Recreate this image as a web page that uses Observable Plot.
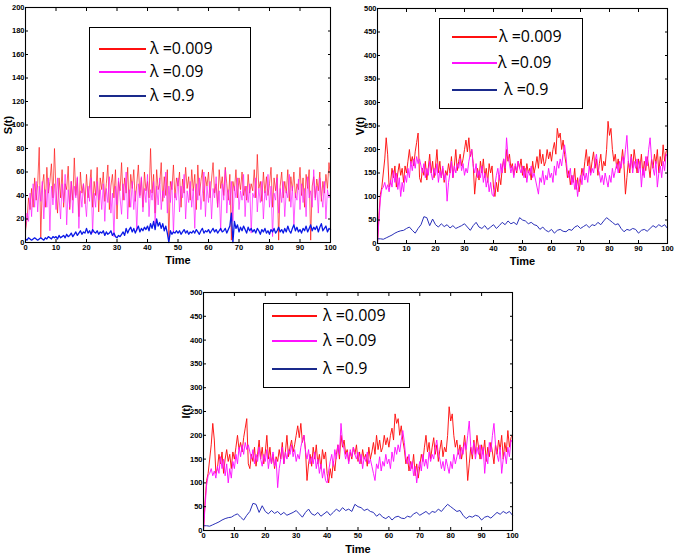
<!DOCTYPE html>
<html>
<head>
<meta charset="utf-8">
<script src="https://cdn.jsdelivr.net/npm/d3@7"></script>
<script src="https://cdn.jsdelivr.net/npm/@observablehq/plot@0.6"></script>
<style>
  body { margin: 0; background: #fff; }
  #wrap { position: relative; width: 678px; height: 558px; background: #fff; overflow: hidden; }
  .panel { position: absolute; }
  .legend { position: absolute; border: 1.5px solid #000; background: #fff; box-sizing: border-box; }
  .legend .sw { position: absolute; height: 2.2px; }
  .legend .lb { position: absolute; font-family: "Open Sans", "Noto Sans", sans-serif; font-size: 16px; line-height: 1; white-space: nowrap; color: #000; transform: translateY(-55%); }
</style>
</head>
<body>
<div id="wrap"></div>
<script>
// ---------- data ----------
const xTicks = [0, 10, 20, 30, 40, 50, 60, 70, 80, 90, 100];
const sTicks = [0, 20, 40, 60, 80, 100, 120, 140, 160, 180, 200];
const vTicks = [0, 50, 100, 150, 200, 250, 300, 350, 400, 450, 500];
const legendLabels = ["λ =0.009", "λ =0.09", "λ =0.9"];
const seriesColors = ["#ff1010", "#ff10ff", "#0a18e0"];

// S(t), sampled every 0.5 time units (t = 0 … 100)
const sRed = [
  10, 20, 38, 28, 46, 30, 55, 36, 50, 81,
  4, 48, 58, 30, 64, 42, 52, 67, 38, 80,
  44, 25, 55, 38, 62, 30, 50, 45, 65, 28,
  52, 36, 72, 40, 55, 22, 60, 42, 50, 33,
  58, 38, 48, 62, 30, 52, 40, 64, 26, 55,
  45, 60, 35, 50, 66, 28, 48, 58, 38, 62,
  20, 52, 44, 68, 36, 55, 42, 64, 30, 58,
  46, 62, 35, 50, 66, 40, 55, 30, 60, 44,
  52, 38, 80, 42, 58, 25, 62, 45, 50, 68,
  35, 56, 40, 62, 2, 52, 45, 66, 38, 55,
  48, 60, 30, 54, 42, 64, 46, 56, 36, 62,
  44, 58, 28, 66, 40, 52, 62, 35, 56, 48,
  60, 38, 54, 68, 42, 50, 30, 62, 46, 56,
  40, 64, 50, 36, 58, 2, 52, 44, 62, 38,
  55, 45, 60, 40, 48, 36, 58, 42, 50, 44,
  62, 38, 75, 46, 52, 35, 60, 42, 56, 40,
  50, 64, 30, 55, 44, 58, 2, 48, 60, 38,
  52, 42, 62, 35, 56, 44, 60, 38, 50, 45,
  64, 40, 55, 30, 58, 46, 62, 2, 48, 56,
  38, 54, 44, 60, 35, 52, 42, 58, 46, 68,
  55
];
const sMagenta = [
  12, 25, 18, 42, 22, 50, 30, 52, 26, 48,
  35, 52, 20, 45, 30, 55, 10, 48, 32, 50,
  28, 55, 38, 20, 50, 34, 58, 15, 45, 30,
  52, 25, 48, 38, 56, 12, 44, 30, 50, 36,
  22, 48, 35, 55, 8, 42, 30, 52, 36, 45,
  28, 50, 18, 46, 34, 56, 25, 42, 5, 48,
  32, 55, 38, 24, 50, 36, 60, 20, 45, 30,
  52, 28, 44, 10, 50, 38, 56, 26, 46, 34,
  58, 22, 45, 36, 52, 15, 48, 32, 55, 28,
  44, 38, 60, 25, 48, 34, 52, 8, 42, 36,
  55, 26, 48, 38, 58, 20, 44, 34, 52, 30,
  46, 12, 50, 36, 55, 28, 42, 60, 22, 48,
  34, 52, 20, 46, 38, 56, 30, 44, 10, 50,
  36, 62, 25, 45, 32, 52, 18, 48, 38, 55,
  28, 44, 36, 58, 22, 48, 34, 50, 8, 42,
  38, 55, 26, 46, 34, 52, 20, 44, 36, 58,
  30, 48, 5, 42, 36, 55, 25, 46, 34, 52,
  22, 44, 38, 58, 30, 48, 15, 42, 36, 54,
  28, 50, 34, 46, 22, 56, 38, 44, 30, 62,
  36, 48, 25, 55, 40, 30, 52, 20, 45, 38,
  42
];
const sBlue = [
  3, 2, 4, 3, 2, 3, 4, 3, 2, 3,
  4, 3, 2, 4, 3, 5, 4, 3, 5, 4,
  5, 3, 6, 4, 5, 6, 4, 7, 5, 6,
  8, 5, 7, 9, 6, 8, 10, 7, 9, 8,
  12, 8, 10, 7, 11, 9, 8, 10, 7, 9,
  8, 10, 6, 9, 7, 8, 10, 6, 8, 5,
  4, 6, 5, 7, 9, 6, 12, 8, 11, 13,
  9, 12, 8, 11, 14, 9, 12, 10, 13, 11,
  14, 10, 16, 12, 18, 11, 20, 14, 17, 12,
  16, 10, 14, 8, 0, 10, 7, 9, 8, 10,
  8, 10, 7, 9, 11, 8, 10, 7, 9, 8,
  10, 8, 11, 9, 7, 10, 12, 8, 10, 9,
  11, 8, 10, 12, 9, 11, 8, 10, 12, 9,
  10, 12, 8, 11, 14, 25, 0, 18, 12, 15,
  9, 13, 10, 14, 11, 8, 13, 10, 12, 9,
  11, 8, 12, 10, 7, 11, 9, 12, 8, 10,
  7, 11, 9, 12, 8, 10, 13, 9, 11, 8,
  12, 9, 14, 10, 8, 12, 15, 10, 13, 9,
  11, 8, 12, 10, 14, 9, 12, 15, 10, 13,
  11, 14, 9, 13, 16, 10, 12, 14, 9, 12,
  11
];

// V(t), red & magenta every 0.5 time units, blue every 1 time unit
const vRed = [
  0, 60, 105, 120, 150, 180, 225, 190, 120, 130,
  160, 140, 165, 120, 150, 170, 145, 160, 130, 165,
  150, 175, 200, 170, 185, 165, 195, 215, 235, 140,
  130, 160, 145, 175, 135, 160, 190, 150, 175, 140,
  165, 200, 150, 175, 140, 160, 130, 155, 145, 170,
  150, 185, 140, 165, 200, 155, 175, 190, 165, 180,
  200, 220, 195, 225, 185, 200, 170, 105, 140, 160,
  135, 175, 150, 180, 140, 160, 130, 170, 150, 165,
  120, 100, 130, 110, 145, 125, 160, 180, 150, 200,
  175, 190, 160, 170, 145, 165, 150, 175, 160, 180,
  145, 165, 140, 170, 150, 160, 135, 175, 150, 165,
  185, 160, 200, 170, 190, 165, 175, 200, 180, 195,
  175, 200, 215, 190, 245, 225, 235, 200, 220, 190,
  170, 140, 155, 125, 145, 130, 160, 115, 140, 110,
  135, 160, 145, 175, 200, 165, 185, 150, 175, 195,
  160, 180, 145, 170, 190, 155, 175, 165, 200, 260,
  230, 245, 200, 175, 190, 160, 180, 150, 170, 200,
  165, 105, 140, 175, 150, 190, 160, 200, 175, 150,
  180, 160, 190, 145, 175, 155, 185, 165, 140, 180,
  160, 190, 170, 200, 150, 185, 165, 210, 175, 195,
  200
];
const vMagenta = [
  0, 50, 95, 115, 120, 130, 115, 125, 110, 135,
  120, 155, 130, 150, 115, 140, 100, 130, 110, 145,
  130, 160, 140, 175, 155, 180, 160, 185, 170, 180,
  165, 150, 170, 140, 160, 145, 175, 150, 135, 160,
  145, 170, 130, 155, 140, 165, 135, 150, 90, 130,
  150, 175, 140, 165, 150, 170, 160, 180, 155, 170,
  145, 160, 150, 175, 190, 200, 165, 150, 170, 140,
  155, 140, 165, 130, 150, 120, 140, 110, 130, 105,
  100, 125, 145, 160, 135, 170, 150, 180, 160, 225,
  185, 170, 150, 165, 140, 170, 155, 175, 160, 150,
  165, 140, 160, 130, 155, 145, 165, 140, 150, 135,
  120, 105, 140, 130, 155, 125, 145, 135, 160, 140,
  150, 130, 165, 145, 175, 160, 180, 165, 190, 210,
  185, 150, 140, 160, 125, 145, 115, 135, 100, 130,
  145, 125, 160, 135, 150, 130, 165, 145, 160, 150,
  175, 190, 160, 150, 130, 145, 125, 150, 135, 120,
  145, 130, 160, 140, 155, 170, 150, 175, 160, 185,
  170, 200, 230, 175, 160, 185, 150, 175, 160, 180,
  150, 175, 120, 160, 140, 185, 165, 200, 225, 180,
  160, 145, 175, 120, 150, 165, 140, 175, 155, 190,
  185
];
const vBlue = [
  10, 10, 9, 12, 15, 18, 22, 25, 27, 28,
  32, 35, 28, 22, 32, 40, 57, 55, 38, 52,
  40, 35, 42, 36, 40, 33, 38, 32, 35, 38,
  42, 35, 28, 38, 45, 35, 32, 38, 30, 35,
  40, 32, 38, 45, 40, 48, 42, 45, 40, 55,
  50, 48, 42, 45, 40, 38, 30, 35, 28, 25,
  30, 22, 28, 30, 26, 25, 30, 28, 35, 38,
  32, 36, 40, 34, 40, 38, 45, 40, 48, 55,
  50, 45, 40, 42, 32, 25, 30, 28, 32, 30,
  22, 28, 30, 26, 32, 38, 34, 40, 36, 40,
  32
];
// I(t) panel shows the same trajectories as V(t)
const iRed = vRed, iMagenta = vMagenta, iBlue = vBlue;

// ---------- drawing ----------
const FONT = '"Liberation Sans Narrow", "Liberation Sans", Arial, sans-serif';
const wrap = document.getElementById("wrap");

function toRows(values, step) {
  return values.map((v, i) => ({t: i * step, v}));
}

function panel(cfg) {
  const series = [
    {rows: toRows(cfg.red, cfg.redStep), color: seriesColors[0], w: cfg.lw, o: cfg.op},
    {rows: toRows(cfg.magenta, cfg.magentaStep), color: seriesColors[1], w: cfg.lw, o: cfg.op},
    {rows: toRows(cfg.blue, cfg.blueStep), color: cfg.blueColor, w: cfg.blueW, o: 1}
  ];
  const p = Plot.plot({
    width: cfg.width, height: cfg.height,
    marginLeft: cfg.ml, marginRight: cfg.mr, marginTop: cfg.mt, marginBottom: cfg.mb,
    x: {domain: [0, 100]},
    y: {domain: cfg.yDomain},
    style: {fontFamily: FONT, fontSize: "7.5px", fontWeight: "bold", background: "transparent", overflow: "visible", color: "#000"},
    marks: [
      ...series.map(s => Plot.line(s.rows, {x: "t", y: "v", stroke: s.color, strokeWidth: s.w, strokeOpacity: s.o, strokeLinejoin: "round"})),
      Plot.frame({stroke: "#000", strokeWidth: 1.1}),
      Plot.axisX({ticks: xTicks, tickSize: -3, tickPadding: 5, label: "Time", labelAnchor: "center", labelArrow: "none", labelOffset: cfg.xLabelOffset, fontSize: 7.5}),
      Plot.axisX({anchor: "top", ticks: xTicks, tickSize: -3, tickFormat: () => "", label: null}),
      Plot.axisY({ticks: cfg.yTicks, tickSize: -3, tickPadding: 4, label: cfg.yLabel, labelAnchor: "center", labelArrow: "none", labelOffset: cfg.yLabelOffset}),
      Plot.axisY({anchor: "right", ticks: cfg.yTicks, tickSize: -3, tickFormat: () => "", label: null})
    ]
  });
  p.style.position = "absolute";
  p.style.left = cfg.left + "px";
  p.style.top = cfg.top + "px";
  // enlarge axis labels
  p.querySelectorAll('g[aria-label="x-axis label"] text, g[aria-label="y-axis label"] text').forEach(t => {
    t.setAttribute("font-size", "11px");
  });
  wrap.appendChild(p);

  const lg = cfg.legend;
  const box = document.createElement("div");
  box.className = "legend";
  box.style.left = lg.x + "px"; box.style.top = lg.y + "px";
  box.style.width = lg.w + "px"; box.style.height = lg.h + "px";
  wrap.appendChild(box);
  const swColors = [seriesColors[0], seriesColors[1], "#1a2a8c"];
  legendLabels.forEach((lab, i) => {
    const sw = document.createElement("div");
    sw.className = "sw";
    sw.style.left = (lg.lineX0 - lg.x) + "px";
    sw.style.width = (lg.lineX1 - lg.lineX0) + "px";
    sw.style.top = (lg.rows[i] - lg.y - 1) + "px";
    sw.style.background = swColors[i];
    box.appendChild(sw);
    const tx = document.createElement("div");
    tx.className = "lb";
    tx.textContent = lab;
    tx.style.left = (lg.textX[i] - lg.x) + "px";
    tx.style.top = (lg.rows[i] - lg.y) + "px";
    box.appendChild(tx);
  });
}

panel({
  left: 0, top: 0, width: 340, height: 272, ml: 25, mr: 10, mt: 7, mb: 30,
  yDomain: [0, 200], yTicks: sTicks, yLabel: "S(t)", yLabelOffset: 21, xLabelOffset: 21,
  red: sRed, redStep: 0.5, magenta: sMagenta, magentaStep: 0.5, blue: sBlue, blueStep: 0.5,
  blueColor: "#0a18e6", lw: 0.8, blueW: 1.3, op: 0.85,
  legend: {x: 89, y: 27, w: 162, h: 91, lineX0: 98, lineX1: 145, rows: [48, 71, 95], textX: [149, 149, 149]}
});
panel({
  left: 340, top: 0, width: 338, height: 272, ml: 37, mr: 11, mt: 8, mb: 29,
  yDomain: [0, 500], yTicks: vTicks, yLabel: "V(t)", yLabelOffset: 21, xLabelOffset: 21,
  red: vRed, redStep: 0.5, magenta: vMagenta, magentaStep: 0.5, blue: vBlue, blueStep: 1,
  blueColor: "#2a30b8", lw: 1, blueW: 1, op: 0.95,
  legend: {x: 439, y: 18, w: 144, h: 91, lineX0: 451, lineX1: 496, rows: [36, 62, 89], textX: [498, 497, 503]}
});
panel({
  left: 170, top: 280, width: 350, height: 278, ml: 33, mr: 8, mt: 12, mb: 28,
  yDomain: [0, 500], yTicks: vTicks, yLabel: "I(t)", yLabelOffset: 21, xLabelOffset: 22,
  red: iRed, redStep: 0.5, magenta: iMagenta, magentaStep: 0.5, blue: iBlue, blueStep: 1,
  blueColor: "#2a30b8", lw: 1, blueW: 1, op: 0.95,
  legend: {x: 263, y: 303, w: 147, h: 85, lineX0: 271, lineX1: 316, rows: [315, 340, 368], textX: [322, 322, 322]}
});
</script>
</body>
</html>
